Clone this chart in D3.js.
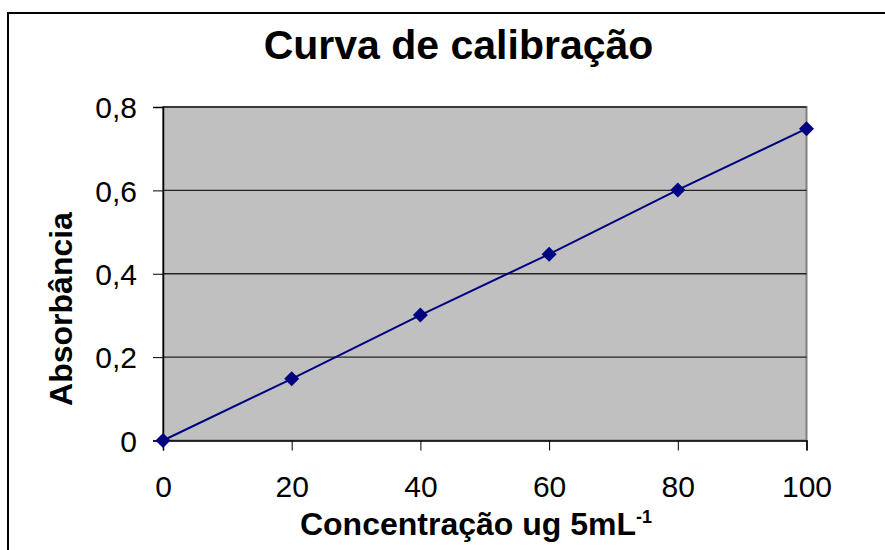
<!DOCTYPE html>
<html><head><meta charset="utf-8">
<script src="https://cdn.jsdelivr.net/npm/d3@7"></script>
<style>body{margin:0;background:#fff}svg{display:block}text{font-family:"Liberation Sans",Arial,sans-serif}</style>
</head><body>
<svg id="c" width="885" height="550"></svg>
<script>
const concentrations = [0, 20, 40, 60, 80, 100];
const absorbance = [0, 0.148, 0.301, 0.447, 0.601, 0.748];
const xTicks = [0, 20, 40, 60, 80, 100];
const yTicks = [0, 0.2, 0.4, 0.6, 0.8];
const title = "Curva de calibração";
const xTitle = "Concentração ug 5mL";
const yTitle = "Absorbância";

const svg = d3.select("#c");
const L = 163, R = 806.5, T = 107, B = 440.5;
const x = d3.scaleLinear().domain([0, 100]).range([L, R]);
const y = d3.scaleLinear().domain([0, 0.8]).range([B, T]);

svg.append("rect").attr("x", 8).attr("y", 13).attr("width", 900).attr("height", 600)
  .attr("fill", "#fff").attr("stroke", "#000").attr("stroke-width", 2);

svg.append("rect").attr("x", L).attr("y", T).attr("width", R - L).attr("height", B - T)
  .attr("fill", "#c0c0c0").attr("stroke", "#808080").attr("stroke-width", 2);

// gridlines
svg.append("g").selectAll("line").data(yTicks.filter(d => d > 0)).join("line")
  .attr("x1", L).attr("x2", R).attr("y1", d => y(d)).attr("y2", d => y(d))
  .attr("stroke", "#222").attr("stroke-width", 1.3);

// axes
const fmt = d => d === 0 ? "0" : d3.format(".1f")(d).replace(".", ",");
const yAxis = svg.append("g").attr("transform", `translate(${L},0)`)
  .call(d3.axisLeft(y).tickValues(yTicks).tickFormat(fmt).tickSize(10).tickPadding(16));
const xAxis = svg.append("g").attr("transform", `translate(0,${B})`)
  .call(d3.axisBottom(x).tickValues(xTicks).tickFormat(d3.format("d")).tickSize(10).tickPadding(25));
[yAxis, xAxis].forEach(a => {
  a.select(".domain").attr("stroke", "#000").attr("stroke-width", 1.5);
  a.selectAll(".tick line").attr("stroke", "#000").attr("stroke-width", 1);
  a.selectAll(".tick text").attr("font-size", 30).attr("fill", "#000")
    .attr("font-family", "'Liberation Sans', Arial, sans-serif");
});
yAxis.selectAll(".tick text").attr("dy", "0.36em");

// line
const pts = concentrations.map((c, i) => [c, absorbance[i]]);
svg.append("path").datum(pts)
  .attr("d", d3.line().x(d => x(d[0])).y(d => y(d[1])))
  .attr("fill", "none").attr("stroke", "#000080").attr("stroke-width", 2);
svg.append("g").selectAll("path").data(pts).join("path")
  .attr("transform", d => `translate(${x(d[0])},${y(d[1])})`)
  .attr("d", "M0,-7.5L7.5,0L0,7.5L-7.5,0Z").attr("fill", "#000080");

// titles
svg.append("text").attr("x", 458.5).attr("y", 59).attr("text-anchor", "middle")
  .attr("font-size", 41).attr("font-weight", "bold").text(title);
const xt = svg.append("text").attr("x", 476).attr("y", 535).attr("text-anchor", "middle")
  .attr("font-size", 32).attr("font-weight", "bold");
xt.append("tspan").text(xTitle);
xt.append("tspan").attr("font-size", 18).attr("dy", -12).text("-1");
svg.append("text").attr("transform", "translate(72,309) rotate(-90)").attr("text-anchor", "middle")
  .attr("font-size", 32).attr("font-weight", "bold").text(yTitle);
</script>
</body></html>
